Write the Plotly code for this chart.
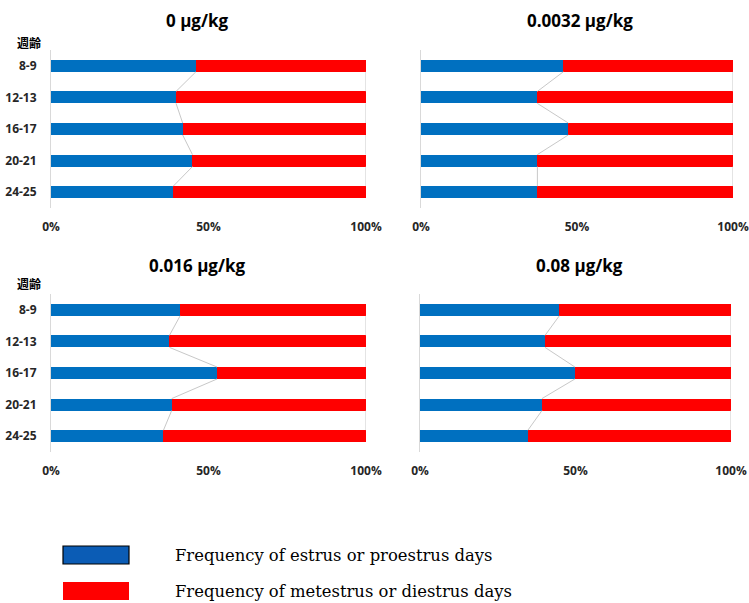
import plotly.graph_objects as go

categories = ["8-9", "12-13", "16-17", "20-21", "24-25"]
panel_titles = ["0 µg/kg", "0.0032 µg/kg", "0.016 µg/kg", "0.08 µg/kg"]

estrus_0 = [0.46, 0.397, 0.418, 0.449, 0.388]
diestrus_0 = [0.54, 0.603, 0.582, 0.551, 0.612]
estrus_00032 = [0.456, 0.373, 0.472, 0.373, 0.373]
diestrus_00032 = [0.544, 0.627, 0.528, 0.627, 0.627]
estrus_0016 = [0.41, 0.376, 0.527, 0.383, 0.357]
diestrus_0016 = [0.59, 0.624, 0.473, 0.617, 0.643]
estrus_008 = [0.448, 0.402, 0.498, 0.392, 0.347]
diestrus_008 = [0.552, 0.598, 0.502, 0.608, 0.653]

legend_labels = ["Frequency of estrus or proestrus days",
                 "Frequency of metestrus or diestrus days"]
x_ticks = [0, 0.5, 1.0]
x_tick_labels = ["0%", "50%", "100%"]
y_axis_title = "週齢"

W, H = 749, 603
BLUE = "#0070C0"
RED = "#FF0000"
SERIES_GRAY = "#C8C8C8"
BAR_W = 0.38

panels = [
    (estrus_0, diestrus_0),
    (estrus_00032, diestrus_00032),
    (estrus_0016, diestrus_0016),
    (estrus_008, diestrus_008),
]

# pixel layout: (x0, x1, ytop, ybottom)
px_boxes = [
    (51, 366, 50, 208),
    (421, 733, 50, 208),
    (51, 366, 294, 452),
    (420, 731, 294, 452),
]
title_pos = [(197, 21), (580, 21), (197, 265), (579, 265)]

def fx(px):
    return px / W

def fy(py):
    return 1 - py / H

fig = go.Figure()
ypos = list(range(len(categories)))

for i, ((blue, red), box) in enumerate(zip(panels, px_boxes)):
    n = i + 1
    xa = "x" if n == 1 else f"x{n}"
    ya = "y" if n == 1 else f"y{n}"
    fig.add_trace(go.Bar(
        x=blue, y=ypos, orientation="h", marker=dict(color=BLUE, line=dict(width=0)),
        width=BAR_W, xaxis=xa, yaxis=ya, showlegend=False, hoverinfo="x"))
    fig.add_trace(go.Bar(
        x=red, y=ypos, orientation="h", marker=dict(color=RED, line=dict(width=0)),
        width=BAR_W, xaxis=xa, yaxis=ya, showlegend=False, hoverinfo="x"))
    # series lines (Excel style) connecting segment ends
    for series in (blue, [b + r for b, r in zip(blue, red)]):
        lx, ly = [], []
        for k in range(len(categories) - 1):
            lx += [series[k], series[k + 1], None]
            ly += [k + BAR_W / 2, k + 1 - BAR_W / 2, None]
        fig.add_trace(go.Scatter(
            x=lx, y=ly, mode="lines", line=dict(color=SERIES_GRAY, width=1),
            xaxis=xa, yaxis=ya, showlegend=False, hoverinfo="skip", cliponaxis=False))

    x0, x1, yt, yb = box
    fig.layout[f"xaxis{n if n > 1 else ''}"] = dict(
        domain=[fx(x0), fx(x1)], anchor=ya, range=[0, 1], automargin=False,
        tickvals=x_ticks, ticktext=x_tick_labels, showgrid=False, zeroline=False,
        showline=False, ticks="", ticklabelstandoff=10,
        tickfont=dict(family="Open Sans", size=12, color="#262626", weight="bold"),
        fixedrange=True)
    fig.layout[f"yaxis{n if n > 1 else ''}"] = dict(
        domain=[fy(yb), fy(yt)], anchor=xa, range=[len(categories) - 0.5, -0.5],
        automargin=False,
        tickvals=ypos, ticktext=categories, showticklabels=(n in (1, 3)),
        showgrid=False, zeroline=False, showline=True, linecolor="#D9D9D9", linewidth=1,
        ticks="", ticklabelstandoff=11,
        tickfont=dict(family="Open Sans", size=12, color="#262626", weight="bold"),
        fixedrange=True)

    tx, ty = title_pos[i]
    fig.add_annotation(
        text=panel_titles[i], x=fx(tx), y=fy(ty), xref="paper", yref="paper",
        xanchor="center", yanchor="middle", showarrow=False,
        font=dict(family="Open Sans", size=17, color="#000000", weight="bold"))

# 週齢 labels
for yy in (42, 283):
    fig.add_annotation(
        text=y_axis_title, x=fx(43), y=fy(yy), xref="paper", yref="paper",
        xanchor="right", yanchor="middle", showarrow=False,
        font=dict(family="Noto Sans CJK JP", size=12, color="#000000", weight="bold"))

# legend
legend_boxes = [
    (63, 546, 129, 564, "#0B5CB5", "#000000"),
    (63, 582, 129, 600, "#FF0000", "#FF0000"),
]
for (bx0, by0, bx1, by1, fc, lc), label in zip(legend_boxes, legend_labels):
    fig.add_shape(type="rect", xref="paper", yref="paper",
                  x0=fx(bx0), x1=fx(bx1), y0=fy(by1), y1=fy(by0),
                  fillcolor=fc, line=dict(color=lc, width=1.2 if lc == "#000000" else 0))
    fig.add_annotation(
        text=label, x=fx(173), y=fy((by0 + by1) / 2), xref="paper", yref="paper",
        xanchor="left", yanchor="middle", showarrow=False,
        font=dict(family="DejaVu Serif", size=16.4, color="#000000"))

fig.update_layout(
    width=W, height=H, margin=dict(l=0, r=0, t=0, b=0, autoexpand=False),
    barmode="stack", bargap=0.62,
    paper_bgcolor="white", plot_bgcolor="white",
    showlegend=False,
)

fig.write_html("out.html")
